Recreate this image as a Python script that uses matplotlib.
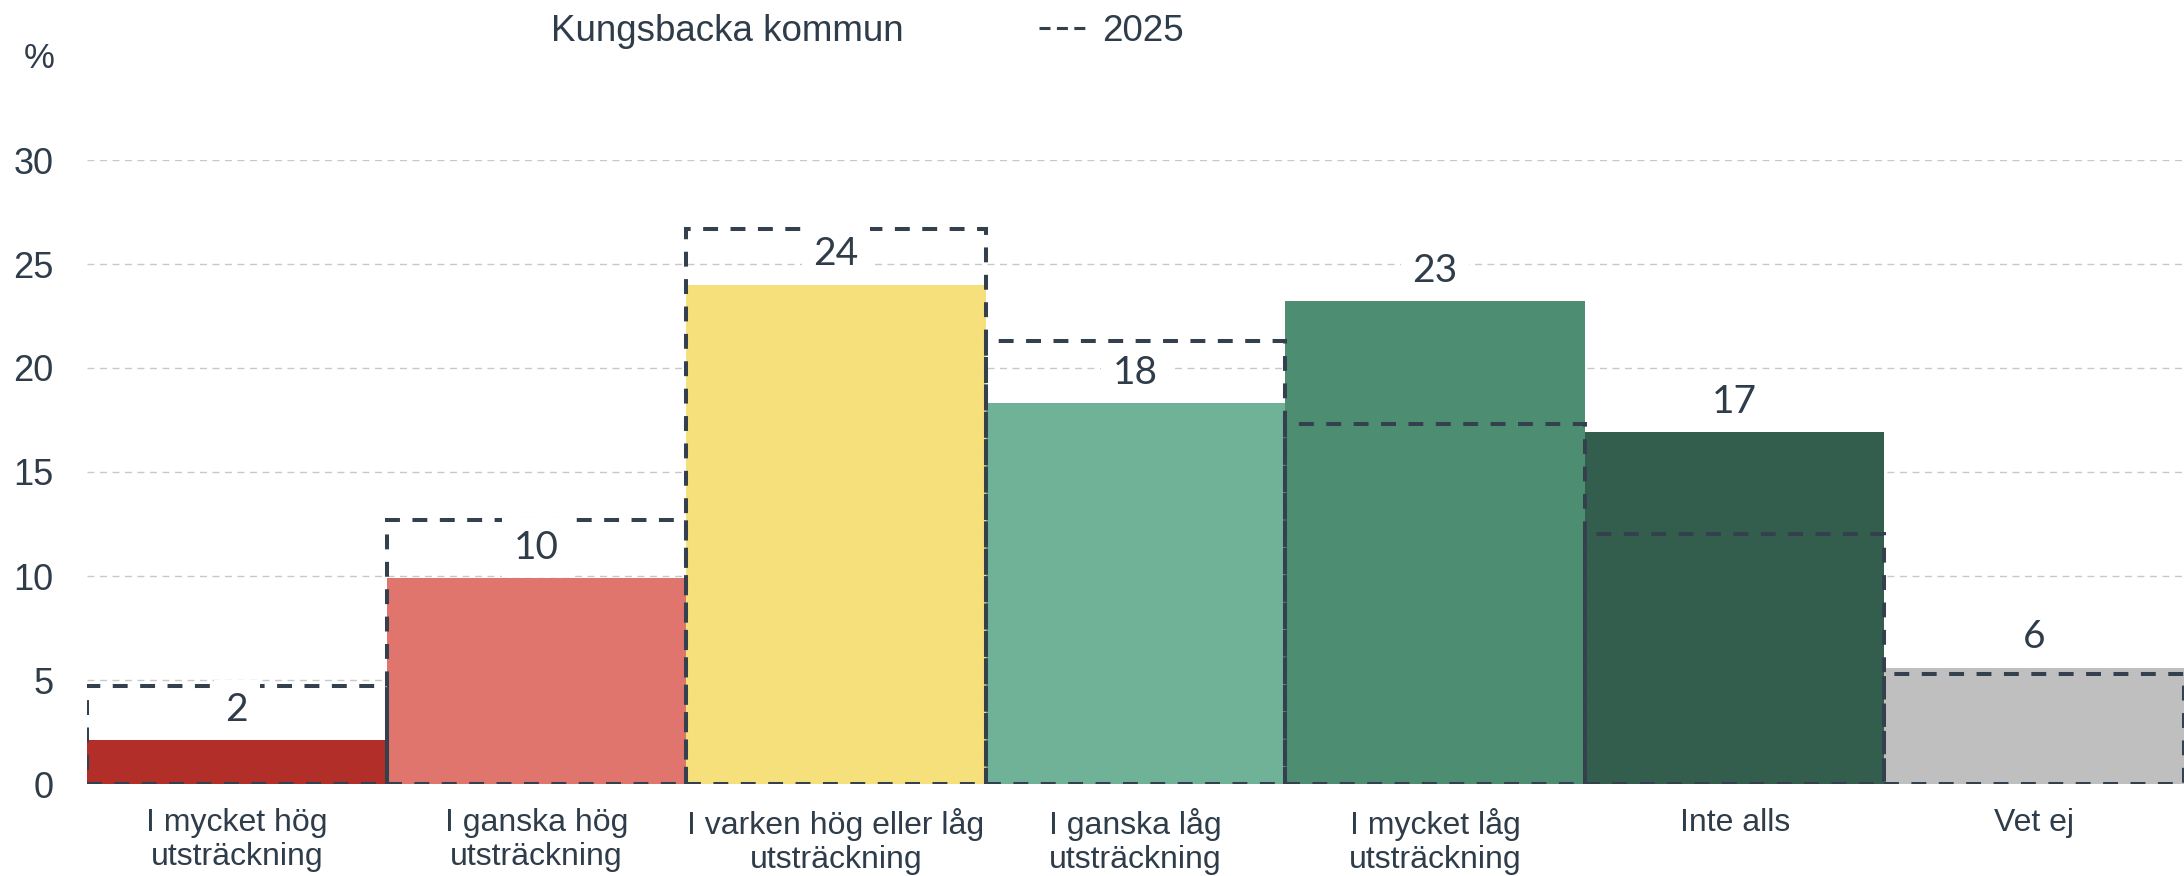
"""Bar chart: Kungsbacka kommun compared with 2025 (dashed outline)."""

import matplotlib
matplotlib.use("Agg")
import matplotlib.pyplot as plt
from matplotlib.lines import Line2D

# Data
categories = [
    "I mycket hög\nutsträckning",
    "I ganska hög\nutsträckning",
    "I varken hög eller låg\nutsträckning",
    "I ganska låg\nutsträckning",
    "I mycket låg\nutsträckning",
    "Inte alls",
    "Vet ej",
]
kommun_values = [2.1, 9.9, 24.0, 18.3, 23.2, 16.9, 5.6]
values_2025 = [4.7, 12.7, 26.7, 21.3, 17.3, 12.0, 5.3]
bar_colors = ["#B22E28", "#E0756D", "#F5E07C", "#6FB298", "#4D8E72", "#335E4D", "#BFBFBF"]
y_ticks = [0, 5, 10, 15, 20, 25, 30]

TEXT_COLOR = "#2F3C4A"
DASH_COLOR = "#34404D"


def plot_chart(output_path: str = "out.png") -> str:
    plt.rcParams["font.family"] = ["Liberation Sans", "DejaVu Sans"]

    fig = plt.figure(figsize=(21.84, 8.76), dpi=100)
    ax = fig.add_axes([87 / 2184, 1 - 784 / 876, 1 - 87 / 2184, (784 - 160) / 876])

    x = list(range(len(categories)))

    # Filled bars for the municipality
    ax.bar(x, kommun_values, width=1.0, color=bar_colors, zorder=2)

    # Dashed outlines for 2025
    ax.bar(
        x,
        values_2025,
        width=1.0,
        fill=False,
        edgecolor=DASH_COLOR,
        linewidth=2.9,
        linestyle=(0, (3.7, 3.1)),
        zorder=3,
    )

    # Value labels with white background
    for xi, v in zip(x, kommun_values):
        ax.annotate(
            f"{v:.0f}",
            xy=(xi, v),
            xytext=(0, 9),
            textcoords="offset points",
            ha="center",
            va="bottom",
            fontsize=28,
            family=["Lato", "DejaVu Sans"],
            color=TEXT_COLOR,
            bbox=dict(boxstyle="square,pad=0.3", facecolor="white", edgecolor="none"),
            zorder=4,
        )

    # Axes styling
    ax.set_xlim(-0.5, len(categories) - 0.5)
    ax.set_ylim(0, 30)
    ax.set_yticks(y_ticks)
    ax.set_xticks(x)
    ax.set_xticklabels(categories, fontsize=23, color=TEXT_COLOR, linespacing=1.2)
    ax.tick_params(axis="y", labelsize=26, labelcolor=TEXT_COLOR, length=0, pad=24)
    ax.tick_params(axis="x", length=0, pad=17)
    for spine in ax.spines.values():
        spine.set_visible(False)
    ax.grid(axis="y", color="#C8C8C8", linewidth=1.0, linestyle=(0, (5, 4)), zorder=0)
    ax.set_axisbelow(True)

    fig.text(39 / 2184, 1 - 58 / 876, "%", fontsize=25, color=TEXT_COLOR, ha="center", va="center")

    # Legend
    handles = [
        Line2D([], [], linestyle="none"),
        Line2D([], [], color=DASH_COLOR, linewidth=2.2, linestyle=(0, (3.6, 2.1))),
    ]
    fig.legend(
        handles,
        ["Kungsbacka kommun", "2025"],
        loc="upper left",
        bbox_to_anchor=(488 / 2184, 0.984),
        ncol=2,
        frameon=False,
        fontsize=26.5,
        labelcolor=TEXT_COLOR,
        handlelength=1.25,
        handletextpad=0.45,
        columnspacing=3.7,
        borderpad=0,
        borderaxespad=0,
    )

    fig.savefig(output_path, dpi=100)
    plt.close(fig)
    return output_path


if __name__ == "__main__":
    plot_chart()
